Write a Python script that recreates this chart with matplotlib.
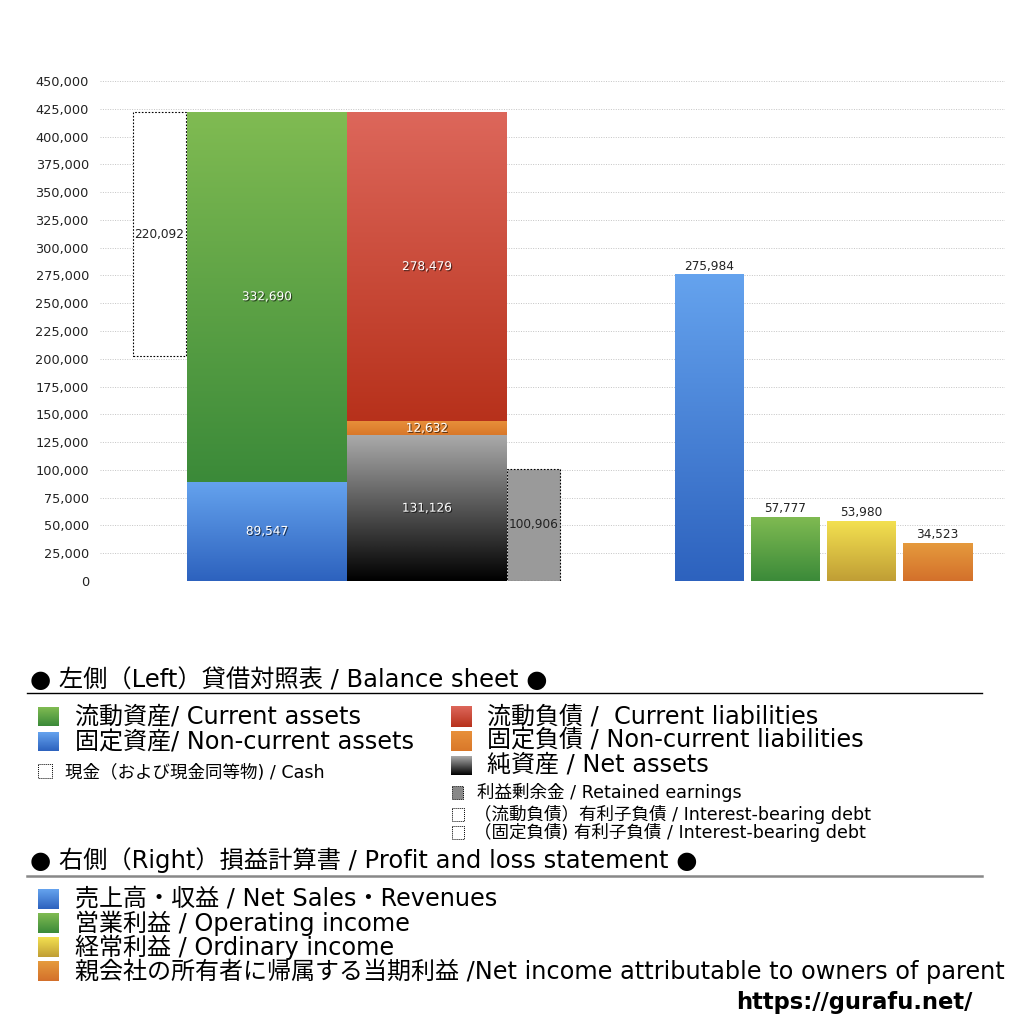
import numpy as np
import matplotlib
matplotlib.use('Agg')
import matplotlib.pyplot as plt
import matplotlib.patheffects as pe
from matplotlib.colors import LinearSegmentedColormap
from matplotlib.patches import Rectangle
from matplotlib.ticker import FuncFormatter

plt.rcParams['font.family'] = ['DejaVu Sans', 'Noto Sans CJK JP']

# balance sheet (left)
current_assets = 332690
noncurrent_assets = 89547
cash = 220092
current_liabilities = 278479
noncurrent_liabilities = 12632
net_assets = 131126
retained_earnings = 100906

# profit and loss (right)
pl_labels = ['売上高・収益', '営業利益', '経常利益', '親会社の所有者に帰属する当期利益']
pl_en = ['Net Sales・Revenues', 'Operating income', 'Ordinary income',
         'Net income attributable to owners of parent']
pl_values = [275984, 57777, 53980, 34523]
pl_colors = [('#65a3ee', '#2d62be'), ('#80bb52', '#3b8a39'),
             ('#f3e050', '#c09e35'), ('#e69b3d', '#d3702b')]

GREEN = ('#80bb52', '#3b8a39')
BLUE = ('#65a3ee', '#2d62be')
RED = ('#dd675b', '#b7311b')
ORANGE = ('#e8903a', '#d9782a')
BLACK = ('#aaaaaa', '#000000')

fig = plt.figure(figsize=(10.24, 10.24), dpi=100)
ax = fig.add_axes([100 / 1024, 443 / 1024, 905 / 1024, 500 / 1024])

U = 53.33  # px per x unit


def grad_bar(ax, x0, w, bottom, h, colors):
    bar = ax.bar(x0, h, w, bottom=bottom, align='edge', color=colors[1], zorder=2)[0]
    cmap = LinearSegmentedColormap.from_list('g', [colors[1], colors[0]])
    img = ax.imshow(np.linspace(0, 1, 256).reshape(-1, 1), cmap=cmap, origin='lower',
                    extent=(x0, x0 + w, bottom, bottom + h), aspect='auto', zorder=2.1)
    img.set_clip_path(bar)
    return bar


shadow = [pe.withSimplePatchShadow(offset=(0.8, -0.8), shadow_rgbFace='black', alpha=0.6)]
LBL = 8.7


def inner_label(x, y, v, color='white', fx=None):
    ax.text(x, y, f'{v:,}', ha='center', va='center', fontsize=LBL, color=color,
            path_effects=fx, zorder=5)


total_assets = current_assets + noncurrent_assets

# cash box
cx0, cw = 33 / U, 53 / U
ax.bar(cx0, cash, cw, bottom=total_assets - cash, align='edge', facecolor='white',
       edgecolor='black', linestyle=(0, (1.5, 1.5)), linewidth=0.8, zorder=2)
inner_label(cx0 + cw / 2, total_assets - cash / 2, cash, color='#222222')

# assets
ax0, aw = 87 / U, 160 / U
grad_bar(ax, ax0, aw, 0, noncurrent_assets, BLUE)
grad_bar(ax, ax0, aw, noncurrent_assets, current_assets, GREEN)
inner_label(ax0 + aw / 2, noncurrent_assets / 2, noncurrent_assets, fx=shadow)
inner_label(ax0 + aw / 2, noncurrent_assets + current_assets / 2, current_assets, fx=shadow)

# liabilities + net assets
lx0 = 247 / U
grad_bar(ax, lx0, aw, 0, net_assets, BLACK)
grad_bar(ax, lx0, aw, net_assets, noncurrent_liabilities, ORANGE)
grad_bar(ax, lx0, aw, net_assets + noncurrent_liabilities, current_liabilities, RED)
inner_label(lx0 + aw / 2, net_assets / 2, net_assets, fx=shadow)
inner_label(lx0 + aw / 2, net_assets + noncurrent_liabilities / 2, noncurrent_liabilities, fx=shadow)
inner_label(lx0 + aw / 2, net_assets + noncurrent_liabilities + current_liabilities / 2,
            current_liabilities, fx=shadow)

# retained earnings
rx0 = 407 / U
ax.bar(rx0, retained_earnings, cw, align='edge', facecolor='#9a9a9a',
       edgecolor='black', linestyle=(0, (1.5, 1.5)), linewidth=0.8, zorder=2)
inner_label(rx0 + cw / 2, retained_earnings / 2, retained_earnings, color='#222222')

# P/L bars
px0, pw, pstep = 575 / U, 69 / U, 76 / U
for i, (v, c) in enumerate(zip(pl_values, pl_colors)):
    x = px0 + i * pstep
    grad_bar(ax, x, pw, 0, v, c)
    ax.text(x + pw / 2, v + 1500, f'{v:,}', ha='center', va='bottom', fontsize=LBL,
            color='#222222')

ax.set_xlim(0, 905 / U)
ax.set_ylim(0, 450000)
ax.set_yticks(np.arange(0, 450001, 25000))
ax.yaxis.set_major_formatter(FuncFormatter(lambda v, p: f'{int(v):,}'))
ax.tick_params(axis='y', length=0, labelsize=9.3, pad=8, colors='#222222')
ax.set_xticks([])
ax.grid(axis='y', color='#c4c4c4', linestyle=(0, (1, 1.5)), linewidth=0.7, zorder=0)
ax.set_axisbelow(True)
for s in ax.spines.values():
    s.set_visible(False)

# legend area, drawn in pixel coordinates
lg = fig.add_axes([0, 0, 1, 1], zorder=-1)
lg.set_xlim(0, 1024)
lg.set_ylim(1024, 0)
lg.axis('off')


def leg_box(x, y, w, h, colors=None, face=None):
    if colors is not None:
        cmap = LinearSegmentedColormap.from_list('g', [colors[1], colors[0]])
        lg.imshow(np.linspace(0, 1, 64).reshape(-1, 1), cmap=cmap, origin='lower',
                  extent=(x, x + w, y + h, y), aspect='auto')
    else:
        lg.add_patch(Rectangle((x, y), w, h, facecolor=face or 'white',
                               edgecolor='black', linestyle=(0, (1, 1)), linewidth=0.7))


big = 17.3
small = 12.6
lg.text(30, 680, '● 左側（Left）貸借対照表 / Balance sheet ●', fontsize=17.5, va='center')
lg.plot([27, 982], [693, 693], color='black', lw=1)

leg_box(38, 707, 21, 19, GREEN)
lg.text(75, 717, '流動資産/ Current assets', fontsize=big, va='center')
leg_box(38, 732, 21, 19, BLUE)
lg.text(75, 742, '固定資産/ Non-current assets', fontsize=big, va='center')
leg_box(38, 764, 14, 14)
lg.text(65, 773, '現金（および現金同等物) / Cash', fontsize=small, va='center')

leg_box(451, 706, 21, 21, RED)
lg.text(487, 716, '流動負債 /  Current liabilities', fontsize=big, va='center')
leg_box(451, 731, 21, 20, ORANGE)
lg.text(487, 741, '固定負債 / Non-current liabilities', fontsize=big, va='center')
leg_box(451, 756, 21, 19, BLACK)
lg.text(487, 765, '純資産 / Net assets', fontsize=big, va='center')
leg_box(452, 786, 11, 13, face='#888888')
lg.text(477, 792, '利益剰余金 / Retained earnings', fontsize=small, va='center')
leg_box(452, 808, 12, 13)
lg.text(474, 814, '（流動負債）有利子負債 / Interest-bearing debt', fontsize=small, va='center')
leg_box(452, 826, 12, 13)
lg.text(474, 832.5, '（固定負債) 有利子負債 / Interest-bearing debt', fontsize=small, va='center')

lg.text(30, 860, '● 右側（Right）損益計算書 / Profit and loss statement ●', fontsize=17.5, va='center')
lg.plot([27, 982], [876, 876], color='#888888', lw=1.8)

for i, (jp, en, c) in enumerate(zip(pl_labels, pl_en, pl_colors)):
    y = 899 + i * 24
    leg_box(38, y - 10, 21, 20, c)
    sep = ' /' if i == 3 else ' / '
    lg.text(75, y, jp + sep + en, fontsize=big, va='center')

lg.text(972, 1002, 'https://gurafu.net/', fontsize=16.3, fontweight='bold', ha='right', va='center')

fig.savefig('out.png', dpi=100)
